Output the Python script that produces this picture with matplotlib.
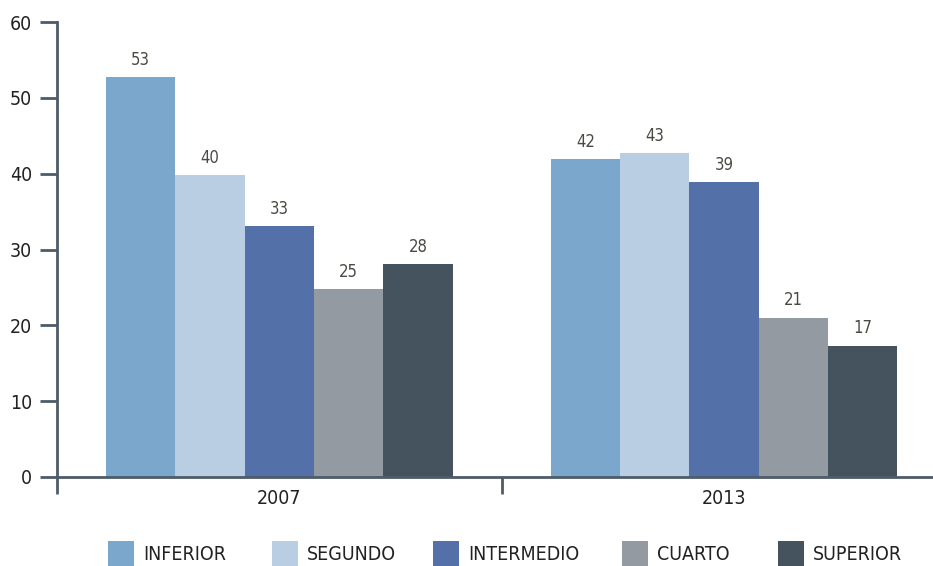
import matplotlib
matplotlib.use("Agg")
import matplotlib.pyplot as plt
import numpy as np

plt.rcParams['font.family'] = ['DejaVu Sans']
plt.rcParams['font.stretch'] = 'condensed'

anios = ["2007", "2013"]
grupos = ["INFERIOR", "SEGUNDO", "INTERMEDIO", "CUARTO", "SUPERIOR"]
valores = {
    "INFERIOR": [52.7, 41.9],
    "SEGUNDO": [39.8, 42.7],
    "INTERMEDIO": [33.1, 38.9],
    "CUARTO": [24.8, 21.0],
    "SUPERIOR": [28.1, 17.3],
}
colores = ["#7ba7cc", "#bacee3", "#5470a8", "#939aa2", "#44535e"]
yticks = [0, 10, 20, 30, 40, 50, 60]
# posiciones (px) de cada entrada de la leyenda
leyenda_x = [108, 272, 433, 622, 778]

fig = plt.figure(figsize=(9.33, 5.66), dpi=100)
ax = fig.add_axes([57/933, 89/566, (933-57)/933, 455/566])

x = np.arange(len(anios))
w = 0.78 / len(grupos)
ejes = "#4d5c69"
handles = []
for k, g in enumerate(grupos):
    pos = x - 0.39 + w/2 + k*w
    b = ax.bar(pos, valores[g], width=w, color=colores[k], label=g)
    handles.append(b)
    for px, v in zip(pos, valores[g]):
        ax.annotate(f"{round(v)}", (px, v), xytext=(0, 6), textcoords="offset points",
                    ha="center", va="bottom", fontsize=12, color="#4a4a44")

ax.set_xlim(-0.5, 1.47)
ax.set_ylim(0, 60)
ax.set_yticks(yticks)
ax.set_xticks(x)
ax.set_xticklabels(anios)
ax.set_xticks([-0.5, 0.5], minor=True)
ax.tick_params(axis="x", which="major", length=0, pad=9, labelsize=14, labelcolor="#222222")
ax.tick_params(axis="x", which="minor", length=12, width=2, color=ejes, direction="out")
ax.tick_params(axis="y", length=12, width=2, color=ejes, labelsize=14, labelcolor="#222222", pad=6)
for s in ["top", "right"]:
    ax.spines[s].set_visible(False)
for s in ["left", "bottom"]:
    ax.spines[s].set_color(ejes)
    ax.spines[s].set_linewidth(2)
ax.spines["left"].set_bounds(0, 60)

for h, g, lx in zip(handles, grupos, leyenda_x):
    fig.legend(handles=[h], labels=[g], loc="lower left", bbox_to_anchor=(lx/933, 0.0),
               frameon=False, fontsize=14, handlelength=1.34, handleheight=1.6,
               handletextpad=0.45, borderpad=0, borderaxespad=0, labelcolor="#222222")

fig.savefig("out.png", dpi=100)
